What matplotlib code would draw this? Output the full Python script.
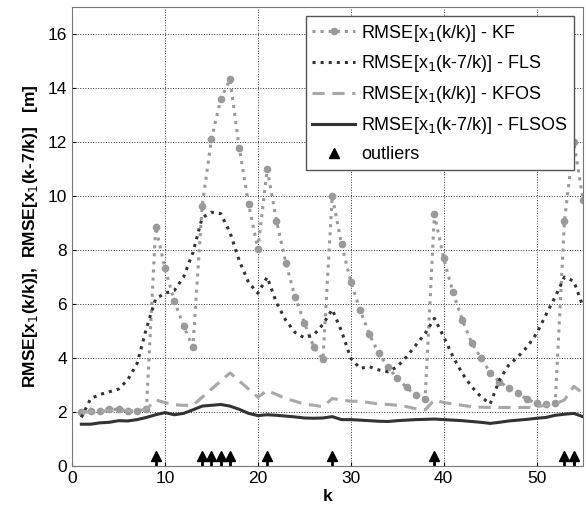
import numpy as np
import matplotlib
matplotlib.use("Agg")
import matplotlib.pyplot as plt

plt.rcParams['font.family'] = ['Liberation Sans', 'DejaVu Sans']

k = np.arange(1, 56)

rmse_kf = [2.0, 2.05, 2.05, 2.1, 2.1, 2.05, 2.05, 2.1, 8.86, 7.32,
           6.12, 5.19, 4.4, 9.63, 12.1, 13.6, 14.32, 11.77, 9.7, 8.04,
           11.0, 9.09, 7.54, 6.27, 5.31, 4.42, 3.95, 10.0, 8.22, 6.83,
           5.78, 4.89, 4.17, 3.68, 3.25, 2.91, 2.63, 2.5, 9.32, 7.69,
           6.43, 5.41, 4.57, 4.01, 3.46, 3.12, 2.88, 2.69, 2.47, 2.32,
           2.28, 2.32, 9.09, 12.0, 9.85]

rmse_fls = [1.8, 2.5, 2.65, 2.75, 2.85, 3.2, 3.8, 5.1, 6.2, 6.4,
            6.5, 7.0, 7.9, 9.2, 9.4, 9.35, 8.65, 7.6, 6.8, 6.4,
            7.0, 6.05, 5.4, 4.95, 4.75, 4.85, 5.25, 5.8, 5.0, 3.99,
            3.62, 3.68, 3.56, 3.49, 3.68, 4.05, 4.48, 4.91, 5.47, 4.79,
            4.05, 3.43, 2.94, 2.57, 2.3, 3.19, 3.74, 4.05, 4.42, 4.91,
            5.6, 6.27, 7.0, 6.85, 5.9]

rmse_kfos = [2.0, 2.0, 2.02, 2.05, 2.05, 2.05, 2.05, 2.1, 2.45, 2.35,
             2.27, 2.25, 2.25, 2.55, 2.85, 3.15, 3.45, 3.15, 2.85, 2.55,
             2.8, 2.65, 2.5, 2.4, 2.3, 2.25, 2.2, 2.5, 2.45, 2.4,
             2.4, 2.35, 2.3, 2.28, 2.25, 2.2, 2.12, 2.08, 2.45, 2.35,
             2.3, 2.25, 2.2, 2.18, 2.17, 2.17, 2.17, 2.17, 2.17, 2.2,
             2.25, 2.3, 2.45, 2.95, 2.7]

rmse_flsos = [1.55, 1.55, 1.6, 1.62, 1.68, 1.67, 1.72, 1.8, 1.9, 1.98,
              1.9, 1.95, 2.08, 2.22, 2.25, 2.28, 2.22, 2.1, 1.95, 1.87,
              1.9, 1.88, 1.85, 1.82, 1.78, 1.77, 1.78, 1.83, 1.72, 1.72,
              1.7, 1.68, 1.66, 1.65, 1.68, 1.7, 1.72, 1.73, 1.74, 1.72,
              1.7, 1.68, 1.65, 1.62, 1.58, 1.62, 1.67, 1.7, 1.73, 1.77,
              1.8, 1.88, 1.92, 1.95, 1.83]

outliers = [9, 14, 15, 16, 17, 21, 28, 39, 53, 54]

fig = plt.figure(figsize=(5.86, 5.11), dpi=100)
ax = fig.add_axes([0.123, 0.088, 0.872, 0.898])

ax.plot(k, rmse_kf, color='#9a9a9a', linestyle=':', linewidth=2.2,
        marker='o', markersize=4.5, label='RMSE[x$_1$(k/k)] - KF')
ax.plot(k, rmse_fls, color='#333333', linestyle=':', linewidth=2.2,
        label='RMSE[x$_1$(k-7/k)] - FLS')
ax.plot(k, rmse_kfos, color='#a8a8a8', linestyle='--', linewidth=2.2,
        dashes=(4, 2.5), label='RMSE[x$_1$(k/k)] - KFOS')
ax.plot(k, rmse_flsos, color='#333333', linestyle='-', linewidth=2.2,
        label='RMSE[x$_1$(k-7/k)] - FLSOS')

ax.vlines(outliers, 0, 0.3, color='black', linewidth=2)
ax.plot(outliers, [0.38] * len(outliers), linestyle='none', marker='^',
        color='black', markersize=7.5, label='outliers')

ax.set_xlim(0, 55)
ax.set_ylim(0, 17)
ax.set_xticks(np.arange(0, 60, 10))
ax.set_yticks(np.arange(0, 18, 2))
ax.grid(True, color='black', linestyle=':', linewidth=0.7, alpha=0.8)
ax.tick_params(labelsize=12.5, direction='in', length=3)
for s in ax.spines.values():
    s.set_color('#777777')

ax.set_xlabel('k', fontsize=12.5, fontweight='bold', labelpad=2)
ax.set_ylabel('RMSE[x$_1$(k/k)],  RMSE[x$_1$(k-7/k)]   [m]',
              fontsize=12.5, fontweight='bold', labelpad=6)

leg = ax.legend(loc='upper right', fontsize=13, frameon=True, fancybox=False,
                edgecolor='#555555', framealpha=1, handlelength=2.4,
                borderaxespad=0.5, labelspacing=0.55, handletextpad=0.3,
                borderpad=0.35)
leg.get_frame().set_linewidth(1.0)

fig.savefig('out.png', dpi=100)
